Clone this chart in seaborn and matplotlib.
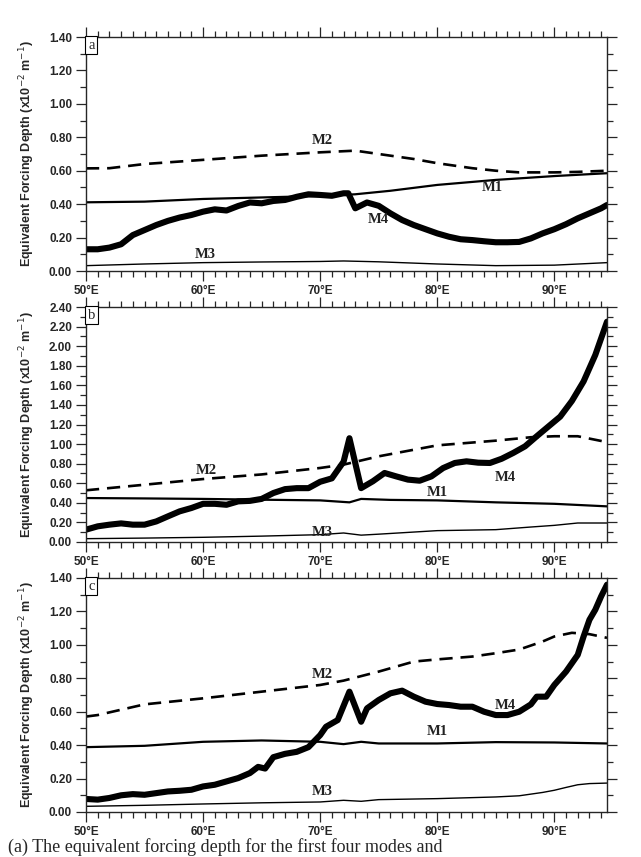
"""
Equivalent forcing depth of the first four modes (M1-M4) along longitude,
three panels (a, b, c) stacked vertically.
"""

import matplotlib
matplotlib.use("Agg")
import matplotlib.pyplot as plt
from matplotlib.ticker import MultipleLocator, FuncFormatter
import seaborn as sns

# --- Data --------------------------------------------------------------
# panel a
A_M1_LON = [50, 55, 60, 65, 70, 73, 76, 80, 85, 90, 94.5]
A_M1 = [0.411, 0.415, 0.431, 0.440, 0.449, 0.459, 0.480, 0.515, 0.545, 0.568, 0.585]
A_M2_LON = [50, 52, 55, 60, 65, 70, 73, 75, 78, 80, 83, 85, 87, 90, 92, 94.5]
A_M2 = [0.614, 0.615, 0.640, 0.665, 0.690, 0.710, 0.720, 0.700, 0.670, 0.645,
        0.615, 0.600, 0.590, 0.590, 0.593, 0.600]
A_M3_LON = [50, 55, 60, 65, 70, 72, 75, 80, 85, 90, 94.5]
A_M3 = [0.032, 0.042, 0.050, 0.054, 0.057, 0.060, 0.055, 0.042, 0.032, 0.035, 0.050]
A_M4_LON = [50, 51, 52, 53, 54, 55, 56, 57, 58, 59, 60, 61, 62, 63, 64, 65, 66,
            67, 68, 69, 70, 71, 72, 72.4, 73, 74, 75, 76, 77, 78, 79, 80, 81,
            82, 83, 84, 85, 86, 87, 88, 89, 90, 91, 92, 93, 94, 94.5]
A_M4 = [0.130, 0.130, 0.140, 0.160, 0.215, 0.245, 0.275, 0.300, 0.320, 0.335,
        0.355, 0.369, 0.362, 0.389, 0.410, 0.405, 0.419, 0.425, 0.444, 0.459,
        0.455, 0.450, 0.465, 0.465, 0.375, 0.410, 0.390, 0.345, 0.305, 0.275,
        0.250, 0.225, 0.205, 0.190, 0.185, 0.178, 0.172, 0.172, 0.174, 0.195,
        0.225, 0.250, 0.280, 0.315, 0.345, 0.375, 0.395]

# panel b
B_M1_LON = [50, 55, 60, 65, 70, 72.5, 73.5, 76, 80, 85, 90, 94.5]
B_M1 = [0.449, 0.445, 0.440, 0.432, 0.425, 0.405, 0.440, 0.430, 0.425, 0.405,
        0.390, 0.364]
B_M2_LON = [50, 55, 60, 65, 70, 72, 75, 80, 85, 88, 90, 92, 94.5]
B_M2 = [0.528, 0.585, 0.643, 0.690, 0.756, 0.790, 0.875, 0.987, 1.035, 1.070,
        1.080, 1.080, 1.020]
B_M3_LON = [50, 55, 60, 65, 70, 72, 73.5, 75, 80, 85, 88, 90, 92, 94.5]
B_M3 = [0.034, 0.040, 0.048, 0.060, 0.075, 0.092, 0.070, 0.080, 0.116, 0.126,
        0.153, 0.170, 0.194, 0.194]
B_M4_LON = [50, 51, 52, 53, 54, 55, 56, 57, 58, 59, 60, 61, 62, 63, 64, 65, 66,
            67, 68, 69, 70, 71, 72, 72.5, 73.5, 74.5, 75.5, 76.5, 77.5, 78.5,
            79.5, 80.5, 81.5, 82.5, 83.5, 84.5, 85.5, 86.5, 87.5, 88.5, 89.5,
            90.5, 91.5, 92.5, 93.5, 94.5]
B_M4 = [0.126, 0.160, 0.177, 0.190, 0.177, 0.177, 0.210, 0.262, 0.313, 0.347,
        0.390, 0.390, 0.380, 0.415, 0.420, 0.440, 0.500, 0.540, 0.550, 0.550,
        0.615, 0.650, 0.820, 1.060, 0.550, 0.620, 0.705, 0.670, 0.637, 0.626,
        0.670, 0.755, 0.807, 0.824, 0.810, 0.807, 0.850, 0.910, 0.977, 1.080,
        1.180, 1.280, 1.440, 1.640, 1.910, 2.250]

# panel c
C_M1_LON = [50, 55, 60, 65, 70, 72, 73.5, 75, 80, 85, 90, 94.5]
C_M1 = [0.388, 0.396, 0.420, 0.428, 0.420, 0.406, 0.420, 0.410, 0.410, 0.418,
        0.416, 0.410]
C_M2_LON = [50, 51, 55, 60, 65, 70, 72, 75, 78, 80, 83, 85, 87, 89, 90, 91.5,
            93, 94.5]
C_M2 = [0.571, 0.580, 0.644, 0.680, 0.720, 0.760, 0.786, 0.840, 0.900, 0.913,
        0.930, 0.950, 0.972, 1.020, 1.050, 1.072, 1.064, 1.042]
C_M3_LON = [50, 55, 60, 65, 70, 72, 73.5, 75, 80, 85, 87, 89, 90, 91, 92, 93, 94.5]
C_M3 = [0.034, 0.040, 0.048, 0.055, 0.060, 0.070, 0.064, 0.074, 0.080, 0.090,
        0.097, 0.117, 0.130, 0.147, 0.163, 0.170, 0.173]
C_M4_LON = [50, 51, 52, 53, 54, 55, 56, 57, 58, 59, 60, 61, 62, 63, 64, 64.7,
            65.3, 66, 67, 68, 69, 70, 70.5, 71.5, 72.5, 73.5, 74, 75, 76, 77,
            78, 79, 80, 81, 82, 83, 84, 85, 86, 87, 88, 88.5, 89.3, 90, 91, 92,
            92.5, 93, 93.5, 94, 94.5]
C_M4 = [0.078, 0.074, 0.084, 0.100, 0.107, 0.103, 0.113, 0.123, 0.127, 0.133,
        0.153, 0.163, 0.183, 0.203, 0.233, 0.270, 0.260, 0.328, 0.348, 0.360,
        0.388, 0.460, 0.510, 0.550, 0.720, 0.540, 0.620, 0.670, 0.710, 0.726,
        0.690, 0.660, 0.646, 0.640, 0.630, 0.630, 0.600, 0.580, 0.580, 0.600,
        0.644, 0.690, 0.690, 0.760, 0.840, 0.940, 1.050, 1.150, 1.210, 1.290,
        1.360]

PANELS = ["a", "b", "c"]
YMAX = [1.4, 2.4, 1.4]

# label positions (lon, value) for M1..M4
A_LABELS = {"M1": (84.7, 0.50), "M2": (70.2, 0.78), "M3": (60.2, 0.10), "M4": (75.0, 0.31)}
B_LABELS = {"M1": (80.0, 0.51), "M2": (60.3, 0.73), "M3": (70.2, 0.10), "M4": (85.8, 0.66)}
C_LABELS = {"M1": (80.0, 0.48), "M2": (70.2, 0.82), "M3": (70.2, 0.12), "M4": (85.8, 0.64)}

CAPTION = "(a) The equivalent forcing depth for the first four modes and"

# --- Figure ------------------------------------------------------------
sns.set_style("ticks")
plt.rcParams["font.family"] = ["Liberation Sans", "DejaVu Sans"]
plt.rcParams["axes.linewidth"] = 1.0

fig = plt.figure(figsize=(6.41, 8.57), dpi=100)
positions = [
    [86 / 641, 1 - 271 / 857, 521 / 641, 234 / 857],
    [86 / 641, 1 - 542 / 857, 521 / 641, 235 / 857],
    [86 / 641, 1 - 812 / 857, 521 / 641, 234 / 857],
]

panel_data = [
    (A_M1_LON, A_M1, A_M2_LON, A_M2, A_M3_LON, A_M3, A_M4_LON, A_M4, A_LABELS),
    (B_M1_LON, B_M1, B_M2_LON, B_M2, B_M3_LON, B_M3, B_M4_LON, B_M4, B_LABELS),
    (C_M1_LON, C_M1, C_M2_LON, C_M2, C_M3_LON, C_M3, C_M4_LON, C_M4, C_LABELS),
]

for tag, ymax, pos, pdata in zip(PANELS, YMAX, positions, panel_data):
    m1x, m1, m2x, m2, m3x, m3, m4x, m4, labels = pdata
    ax = fig.add_axes(pos)

    sns.lineplot(x=m3x, y=m3, ax=ax, color="black", linewidth=1.0, estimator=None)
    sns.lineplot(x=m1x, y=m1, ax=ax, color="black", linewidth=1.6, estimator=None)
    sns.lineplot(x=m2x, y=m2, ax=ax, color="black", linewidth=1.9,
                 linestyle=(0, (5, 3)), estimator=None)
    sns.lineplot(x=m4x, y=m4, ax=ax, color="black", linewidth=4.4,
                 estimator=None, solid_joinstyle="round")

    for name, (lx, ly) in labels.items():
        ax.text(lx, ly, name, ha="center", va="center", fontsize=10.5,
                fontweight="bold", family="Liberation Serif", color="#222222")

    ax.set_xlim(50, 94.5)
    ax.set_ylim(0, ymax)
    ax.xaxis.set_major_locator(MultipleLocator(10))
    ax.xaxis.set_minor_locator(MultipleLocator(1))
    ax.yaxis.set_major_locator(MultipleLocator(0.2))
    ax.yaxis.set_minor_locator(MultipleLocator(0.1))
    ax.xaxis.set_major_formatter(FuncFormatter(lambda v, p: f"{v:.0f}°E"))
    ax.yaxis.set_major_formatter(FuncFormatter(lambda v, p: f"{v:.2f}"))
    ax.tick_params(which="both", direction="out", top=True, right=True,
                   labeltop=False, labelright=False, width=0.9)
    ax.tick_params(which="major", length=7, labelsize=8.5, pad=3)
    ax.tick_params(which="minor", length=4)
    for lab in ax.get_xticklabels() + ax.get_yticklabels():
        lab.set_fontweight("bold")

    ax.set_xlabel("")
    ax.set_ylabel("Equivalent Forcing Depth (x10$^{-2}$ m$^{-1}$)",
                  fontsize=9, fontweight="bold")
    ax.yaxis.set_label_coords(-0.094, 0.5)

    ax.text(0.004, 0.993, tag, transform=ax.transAxes, ha="left", va="top",
            fontsize=10.5, family="Liberation Serif",
            bbox=dict(boxstyle="square,pad=0.18", fc="white", ec="black", lw=0.8))

fig.text(0.012, 1 - 838 / 857, CAPTION,
         ha="left", va="top", fontsize=13, family="Liberation Serif")

fig.savefig("out.png", dpi=100)
plt.close(fig)
